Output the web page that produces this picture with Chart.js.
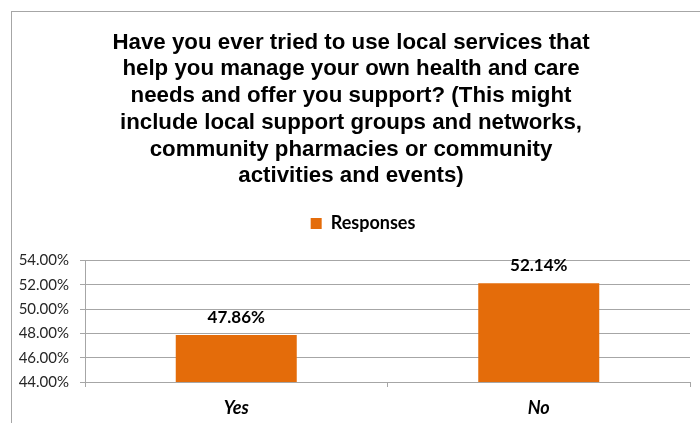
<!DOCTYPE html>
<html>
<head>
<meta charset="utf-8">
<script src="https://cdn.jsdelivr.net/npm/chart.js@4.4.1/dist/chart.umd.min.js"></script>
<style>
    html, body { margin: 0; padding: 0; background: #ffffff; }
    #cornice {
        position: absolute; left: 11px; top: 11px;
        width: 688px; height: 411px;
        border-left: 1px solid #a6a6a6; border-top: 1px solid #a6a6a6;
    }
    #grafico { display: block; }
</style>
</head>
<body>
<div id="cornice"><canvas id="grafico" width="688" height="411"></canvas></div>
<script>
// Dati del sondaggio
const categorie = ['Yes', 'No'];
const percentuali = [47.86, 52.14];
const etichettaSerie = 'Responses';
const titoloRighe = [
    'Have you ever tried to use local services that',
    'help you manage your own health and care',
    'needs and offer you support? (This might',
    'include local support groups and networks,',
    'community pharmacies or community',
    'activities and events)'
];
const asseMin = 44;
const asseMax = 54;
const passo = 2;

const arancio = '#e46c0a';
const grigioGriglia = '#a6a6a6';
const fontCorpo = 'Lato, "Noto Sans", sans-serif';

// Scrive il valore sopra ogni barra
const etichetteValori = {
    id: 'etichetteValori',
    afterDatasetsDraw(chart) {
        const ctx = chart.ctx;
        const meta = chart.getDatasetMeta(0);
        ctx.save();
        ctx.font = 'bold 17px ' + fontCorpo;
        ctx.fillStyle = '#000000';
        ctx.textAlign = 'center';
        ctx.textBaseline = 'middle';
        meta.data.forEach((barra, i) => {
            ctx.fillText(percentuali[i].toFixed(2) + '%', barra.x, barra.y - 18);
        });
        ctx.restore();
    }
};

// Lascia spazio sotto la legenda e la sposta un po' a destra
const ritoccoLegenda = {
    id: 'ritoccoLegenda',
    afterInit(chart) {
        const legenda = chart.legend;
        const fitBase = legenda.fit;
        legenda.fit = function () {
            fitBase.call(this);
            this.height += 18;
        };
    },
    afterLayout(chart) {
        chart.legend.left += 24;
    }
};

const ctx = document.getElementById('grafico').getContext('2d');
new Chart(ctx, {
    type: 'bar',
    data: {
        labels: categorie,
        datasets: [{
            label: etichettaSerie,
            data: percentuali,
            backgroundColor: arancio,
            borderWidth: 0,
            barPercentage: 0.4,
            categoryPercentage: 1
        }]
    },
    options: {
        responsive: false,
        animation: false,
        layout: { padding: { left: 0, right: 10, top: 0, bottom: 0 } },
        scales: {
            x: {
                grid: {
                    display: true,
                    drawOnChartArea: false,
                    color: grigioGriglia,
                    tickLength: 5,
                    offset: true
                },
                border: { color: grigioGriglia },
                ticks: {
                    color: '#000000',
                    padding: 10,
                    font: { family: fontCorpo, size: 18, weight: 'bold', style: 'italic' }
                },
                afterFit(scala) { scala.height = 41; }
            },
            y: {
                min: asseMin,
                max: asseMax,
                grid: { color: grigioGriglia, tickLength: 5 },
                border: { color: grigioGriglia },
                ticks: {
                    stepSize: passo,
                    color: '#262626',
                    padding: 11,
                    font: { family: fontCorpo, size: 15 },
                    callback: v => v.toFixed(2) + '%'
                },
                afterFit(scala) { scala.width = 73; }
            }
        },
        plugins: {
            title: {
                display: true,
                text: titoloRighe,
                color: '#000000',
                font: { family: '"Liberation Sans", Arial, sans-serif', size: 22.3, weight: 'bold', lineHeight: 1.2 },
                padding: { top: 17, bottom: 10 }
            },
            legend: {
                display: true,
                position: 'top',
                labels: {
                    color: '#000000',
                    boxWidth: 11,
                    boxHeight: 11,
                    padding: 15,
                    font: { family: fontCorpo, size: 18, weight: 'bold' }
                }
            },
            tooltip: { enabled: false }
        }
    },
    plugins: [etichetteValori, ritoccoLegenda]
});
</script>
</body>
</html>
